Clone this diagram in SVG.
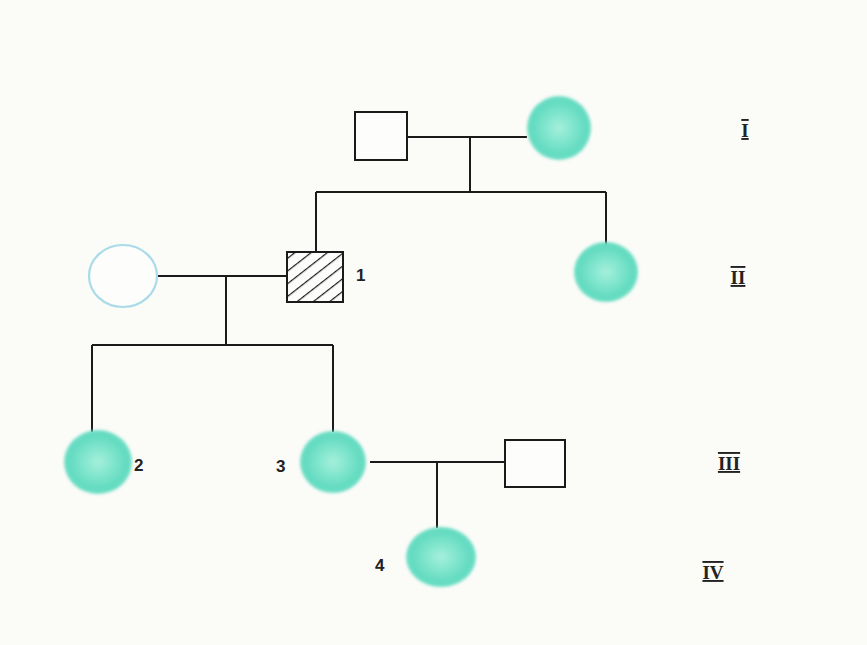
<svg xmlns="http://www.w3.org/2000/svg" width="867" height="645" viewBox="0 0 867 645">
  <style>
    .line { stroke: #1a1a1a; stroke-width: 2; fill: none; }
    .box { fill: #fdfdfb; stroke: #1a1a1a; stroke-width: 2; }
    .aff { fill: url(#teal); filter: url(#soft); }
    .num { font-family: "Liberation Sans", Arial, sans-serif; font-size: 17px; font-weight: bold; fill: #222; }
    .gen { font-family: "Liberation Serif", "Times New Roman", serif; font-size: 19px; font-weight: bold; fill: #222; text-decoration: underline overline; }
  </style>
  <defs>
    <radialGradient id="teal" cx="0.5" cy="0.5" r="0.5">
      <stop offset="0" stop-color="#a6efdc"/>
      <stop offset="0.45" stop-color="#80e5cd"/>
      <stop offset="0.85" stop-color="#62dbc0"/>
      <stop offset="1" stop-color="#72dfc6"/>
    </radialGradient>
    <filter id="soft" x="-20%" y="-20%" width="140%" height="140%">
      <feGaussianBlur stdDeviation="1.6"/>
    </filter>
    <pattern id="hatch" width="10" height="10" patternUnits="userSpaceOnUse" patternTransform="rotate(-38)">
      <rect width="10" height="10" fill="#fdfdfb"/>
      <line x1="0" y1="0" x2="10" y2="0" stroke="#1a1a1a" stroke-width="2.4"/>
    </pattern>
  </defs>

  <rect width="867" height="645" fill="#fbfbf8"/>

  <!-- connectors -->
  <g id="connectors" class="line">
    <path d="M407 137 H527 M470 137 V192 M316 192 H606 M316 192 V252 M606 192 V246"/>
    <path d="M158 276 H287 M226 276 V345 M92 345 H333 M92 345 V432 M333 345 V432"/>
    <path d="M370 462 H505 M437 462 V528"/>
  </g>

  <!-- generation I -->
  <g id="I-1"><rect class="box" x="355" y="112" width="52" height="48"/></g>
  <g id="I-2"><ellipse class="aff" cx="559" cy="128" rx="32" ry="32"/></g>

  <!-- generation II -->
  <g id="II-wife"><ellipse cx="123" cy="276" rx="34" ry="31" fill="#fdfdfb" stroke="#a9dbe9" stroke-width="2.2"/></g>
  <g id="II-1">
    <rect x="287" y="252" width="56" height="50" fill="url(#hatch)" stroke="#1a1a1a" stroke-width="2"/>
    <text class="num" x="356" y="281">1</text>
  </g>
  <g id="II-sister"><ellipse class="aff" cx="606" cy="272" rx="32" ry="30"/></g>

  <!-- generation III -->
  <g id="III-2">
    <ellipse class="aff" cx="98" cy="462" rx="34" ry="32"/>
    <text class="num" x="134" y="471">2</text>
  </g>
  <g id="III-3">
    <ellipse class="aff" cx="333" cy="462" rx="33" ry="31"/>
    <text class="num" x="276" y="472">3</text>
  </g>
  <g id="III-husband"><rect class="box" x="505" y="440" width="60" height="47"/></g>

  <!-- generation IV -->
  <g id="IV-4">
    <ellipse class="aff" cx="441" cy="557" rx="35" ry="30"/>
    <text class="num" x="375" y="571">4</text>
  </g>

  <!-- generation numerals -->
  <g id="generations">
    <text class="gen" x="745" y="137" text-anchor="middle">I</text>
    <text class="gen" x="738" y="284" text-anchor="middle">II</text>
    <text class="gen" x="729" y="470" text-anchor="middle">III</text>
    <text class="gen" x="713" y="579" text-anchor="middle">IV</text>
  </g>
</svg>
